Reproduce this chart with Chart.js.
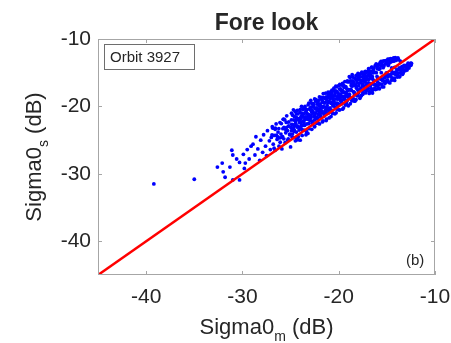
<!DOCTYPE html>
<html>
<head>
<meta charset="utf-8">
<script src="https://cdn.jsdelivr.net/npm/chart.js@4"></script>
<style>
  body { margin: 0; background: #fff; }
  canvas { display: block; }
</style>
</head>
<body>
<canvas id="scatterChart" width="451" height="343"></canvas>
<script>
// axis range and tick labels (dB)
const axisMin = -45;
const axisMax = -10;
const tickValues = [-40, -30, -20, -10];
// 1:1 reference line end points
const refLine = [-45, -10];
// [Sigma0_m, Sigma0_s] pairs
const points = [
  [-39.2,-31.5],[-35.0,-30.8],
  [-32.6,-29.0],[-32.1,-28.4],[-32.0,-29.7],[-31.8,-30.5],[-31.3,-29.0],[-31.0,-27.2],
  [-31.1,-26.5],[-30.3,-28.3],[-29.7,-28.4],[-31.0,-30.9],[-30.3,-30.9],[-30.6,-27.8],
  [-29.9,-27.1],[-29.5,-26.4],[-29.3,-27.8],[-29.8,-29.2],[-29.1,-25.9],
  [-28.9,-25.6],[-28.7,-27.2],[-28.6,-24.5],[-28.4,-26.3],[-28.2,-28.0],[-28.1,-25.0],
  [-27.9,-26.8],[-27.8,-24.2],[-27.6,-25.9],[-27.5,-27.3],[-27.4,-23.6],[-27.2,-25.1],
  [-27.1,-26.4],[-27.0,-24.6],
  [-26.9,-23.0],[-26.8,-25.6],[-26.7,-24.3],[-26.6,-26.5],[-26.5,-22.6],[-26.4,-24.9],
  [-26.3,-23.8],[-26.2,-25.9],[-26.1,-22.4],[-26.0,-24.1],[-25.9,-26.3],[-25.8,-23.3],
  [-25.7,-24.8],[-25.6,-22.0],[-25.5,-23.9],[-25.4,-21.4],[-25.3,-25.0],[-25.2,-22.9],
  [-25.1,-24.2],[-25.0,-26.0],[-25.9,-24.6],[-26.6,-23.4],[-25.4,-23.1],[-25.7,-21.9],
  [-26.93,-24.22],[-26.71,-26.19],[-26.58,-23.23],[-26.37,-24.49],[-26.22,-23.28],
  [-26.08,-25.31],[-25.96,-22.55],[-25.83,-24.47],[-25.69,-23.11],[-25.57,-25.39],
  [-25.44,-22.37],[-25.31,-23.59],[-25.18,-22.31],[-25.06,-24.10],[-26.47,-24.26],
  [-26.14,-24.67],[-25.77,-21.91],[-25.52,-23.39],[-25.24,-24.83],[-26.84,-23.22],
  [-24.9,-21.0],[-24.8,-22.7],[-24.8,-24.1],[-24.7,-23.4],[-24.6,-21.5],[-24.5,-25.1],
  [-24.5,-22.2],[-24.4,-23.8],[-24.3,-20.6],[-24.3,-22.9],[-24.2,-24.5],[-24.1,-21.8],
  [-24.0,-23.1],[-24.0,-20.9],[-23.9,-22.4],[-23.8,-24.3],[-23.8,-21.3],[-23.7,-22.8],
  [-23.6,-20.2],[-23.6,-23.5],[-23.5,-21.9],[-23.4,-24.2],[-23.4,-20.7],[-23.3,-22.6],
  [-23.2,-21.2],[-23.1,-19.5],[-23.1,-23.3],[-23.0,-22.0],[-23.0,-20.4],[-24.6,-22.9],
  [-24.2,-22.0],[-23.9,-23.3],[-23.5,-20.0],[-24.7,-20.5],[-24.0,-25.0],[-23.3,-21.6],
  [-24.4,-21.1],[-23.7,-21.6],[-23.2,-24.0],[-24.9,-23.6],
  [-24.96,-23.12],[-24.91,-21.98],[-24.85,-24.54],[-24.78,-21.31],[-24.72,-23.20],
  [-24.66,-22.00],[-24.59,-23.71],[-24.53,-20.74],[-24.47,-22.50],[-24.41,-21.60],
  [-24.36,-24.80],[-24.29,-23.08],[-24.23,-21.09],[-24.17,-21.80],[-24.12,-23.50],
  [-24.06,-22.38],[-23.99,-20.43],[-23.94,-21.90],[-23.88,-22.81],[-23.82,-21.04],
  [-23.76,-23.53],[-23.71,-20.48],[-23.65,-22.20],[-23.58,-21.07],[-23.53,-22.79],
  [-23.47,-21.55],[-23.41,-20.39],[-23.36,-23.72],[-23.29,-21.02],[-23.24,-21.91],
  [-23.18,-19.77],[-23.12,-22.55],[-23.06,-21.25],[-23.02,-20.38],[-24.88,-22.66],
  [-24.62,-23.49],[-24.38,-21.89],[-24.02,-23.07],[-23.86,-19.98],[-23.61,-22.43],
  [-23.33,-20.47],[-23.15,-21.58],[-24.74,-24.62],[-24.25,-24.96],[-23.92,-21.51],
  [-22.9,-21.6],[-22.9,-19.1],[-22.8,-23.4],[-22.8,-20.5],[-22.7,-22.2],[-22.6,-19.9],
  [-22.6,-21.0],[-22.5,-23.0],[-22.5,-18.9],[-22.4,-21.8],[-22.3,-20.2],[-22.3,-22.5],
  [-22.2,-19.4],[-22.1,-21.2],[-22.1,-20.6],[-22.0,-18.6],[-22.0,-22.6],[-21.9,-19.9],
  [-21.9,-21.5],[-21.8,-20.9],[-21.8,-18.9],[-21.7,-22.3],[-21.6,-20.1],[-21.6,-18.1],
  [-21.5,-21.4],[-21.5,-19.5],[-21.4,-20.7],[-21.3,-22.1],[-21.3,-18.6],[-21.2,-19.9],
  [-21.2,-21.0],[-21.1,-17.9],[-21.1,-20.3],[-21.0,-21.7],[-21.0,-19.2],[-22.7,-20.9],
  [-22.4,-19.2],[-22.2,-21.7],[-21.7,-19.4],[-21.4,-18.8],[-22.9,-20.1],[-22.0,-20.4],
  [-21.6,-21.0],[-22.5,-21.4],[-21.3,-20.3],
  [-22.97,-22.14],[-22.92,-20.50],[-22.86,-21.25],[-22.81,-19.53],[-22.75,-22.48],
  [-22.69,-20.75],[-22.64,-19.75],[-22.58,-21.52],[-22.52,-22.99],[-22.47,-20.31],
  [-22.41,-21.02],[-22.35,-18.99],[-22.29,-21.58],[-22.24,-19.66],[-22.18,-20.44],
  [-22.13,-21.99],[-22.07,-19.10],[-22.02,-20.80],[-21.96,-19.63],[-21.91,-21.33],
  [-21.85,-19.98],[-21.79,-18.67],[-21.74,-20.78],[-21.68,-19.22],[-21.63,-22.15],
  [-21.57,-20.04],[-21.51,-18.77],[-21.46,-21.09],[-21.41,-19.42],[-21.35,-18.04],
  [-21.29,-20.15],[-21.24,-19.03],[-21.18,-20.52],[-21.13,-19.42],[-21.07,-18.24],
  [-21.02,-20.94],[-22.94,-21.77],[-22.71,-20.08],[-22.49,-22.00],[-22.27,-20.69],
  [-22.05,-19.94],[-21.83,-20.50],[-21.61,-18.66],[-21.39,-20.58],[-21.16,-18.67],
  [-22.61,-19.58],[-22.16,-22.44],[-21.72,-20.10],[-21.27,-21.88],[-22.83,-20.77],
  [-20.9,-20.2],[-20.9,-18.1],[-20.8,-21.5],[-20.8,-19.4],[-20.7,-17.6],[-20.7,-20.6],
  [-20.6,-18.8],[-20.5,-19.9],[-20.5,-17.3],[-20.4,-21.1],[-20.4,-18.3],[-20.3,-19.5],
  [-20.2,-17.8],[-20.2,-20.4],[-20.1,-18.9],[-20.0,-16.9],[-20.0,-19.7],[-19.9,-18.2],
  [-19.9,-20.5],[-19.8,-17.4],[-19.7,-19.1],[-19.7,-18.6],[-19.6,-16.6],[-19.5,-20.2],
  [-19.5,-17.9],[-19.4,-18.9],[-19.3,-17.1],[-19.3,-19.8],[-19.2,-18.2],[-19.1,-16.2],
  [-19.1,-19.1],[-19.0,-17.6],[-19.0,-19.9],[-20.6,-19.3],[-20.3,-17.0],[-20.1,-19.9],
  [-19.8,-19.2],[-19.6,-17.8],[-19.4,-17.0],[-19.2,-19.5],[-20.8,-18.6],[-20.4,-19.6],
  [-20.0,-18.4],[-19.6,-20.4],[-19.3,-18.5],
  [-20.97,-19.45],[-20.92,-18.35],[-20.86,-20.52],[-20.81,-17.79],[-20.75,-19.56],
  [-20.69,-18.41],[-20.64,-21.05],[-20.58,-18.84],[-20.53,-17.67],[-20.47,-19.55],
  [-20.42,-18.44],[-20.36,-20.19],[-20.31,-17.68],[-20.25,-18.88],[-20.19,-17.08],
  [-20.14,-19.53],[-20.08,-18.01],[-20.03,-18.79],[-19.97,-20.52],[-19.92,-17.43],
  [-19.86,-18.98],[-19.81,-18.18],[-19.75,-16.83],[-19.69,-19.40],[-19.64,-17.83],
  [-19.58,-18.52],[-19.53,-16.86],[-19.47,-18.96],[-19.42,-17.95],[-19.36,-16.32],
  [-19.31,-19.54],[-19.25,-17.12],[-19.19,-18.22],[-19.14,-17.45],[-19.08,-16.37],
  [-19.03,-18.61],[-20.88,-18.85],[-20.61,-19.90],[-20.38,-17.99],[-20.11,-18.53],
  [-19.89,-16.73],[-19.66,-19.60],[-19.44,-17.16],[-19.22,-17.93],[-20.72,-17.98],
  [-20.27,-20.95],[-19.78,-17.59],[-19.39,-18.62],[-20.49,-19.18],[-19.59,-17.66],
  [-18.9,-15.6],[-18.9,-18.3],[-18.8,-19.6],[-18.7,-16.9],[-18.7,-17.6],[-18.6,-15.3],
  [-18.5,-18.8],[-18.5,-16.3],[-18.4,-17.9],[-18.3,-15.8],[-18.3,-19.2],[-18.2,-17.1],
  [-18.1,-16.0],[-18.1,-18.4],[-18.0,-15.1],[-18.0,-17.6],[-17.9,-16.6],[-17.8,-18.8],
  [-17.8,-15.6],[-17.7,-17.3],[-17.6,-14.9],[-17.6,-16.2],[-17.5,-18.2],[-17.4,-15.5],
  [-17.4,-17.0],[-17.3,-16.3],[-17.2,-14.8],[-17.2,-18.0],[-17.1,-15.9],[-17.0,-17.4],
  [-17.0,-14.9],[-18.6,-17.0],[-18.2,-19.0],[-17.9,-15.3],[-17.5,-16.7],[-18.8,-16.2],
  [-18.4,-16.7],[-17.7,-18.5],[-17.3,-15.2],[-17.1,-16.8],
  [-18.97,-17.51],[-18.92,-16.34],[-18.86,-18.63],[-18.81,-15.69],[-18.75,-17.48],
  [-18.69,-16.65],[-18.64,-19.16],[-18.58,-16.85],[-18.53,-15.66],[-18.47,-17.83],
  [-18.42,-16.50],[-18.36,-18.25],[-18.31,-15.87],[-18.25,-16.89],[-18.19,-15.38],
  [-18.14,-17.32],[-18.08,-16.47],[-18.03,-18.40],[-17.97,-15.61],[-17.92,-16.95],
  [-17.86,-16.02],[-17.81,-17.50],[-17.75,-15.17],[-17.69,-16.47],[-17.64,-18.35],
  [-17.58,-15.61],[-17.53,-16.95],[-17.47,-15.16],[-17.42,-16.01],[-17.36,-17.55],
  [-17.31,-15.53],[-17.25,-16.39],[-17.19,-15.00],[-17.14,-17.70],[-17.08,-15.59],
  [-17.03,-16.61],[-18.89,-18.18],[-18.61,-16.22],[-18.39,-19.21],[-18.17,-16.10],
  [-17.94,-18.02],[-17.72,-16.13],[-17.49,-17.96],[-17.28,-14.86],[-17.11,-16.03],
  [-16.9,-14.4],[-16.9,-16.5],[-16.8,-17.8],[-16.7,-15.3],[-16.7,-16.9],[-16.6,-14.2],
  [-16.5,-17.6],[-16.5,-15.6],[-16.4,-14.6],[-16.3,-16.8],[-16.2,-13.9],[-16.2,-17.5],
  [-16.1,-15.0],[-16.0,-16.3],[-16.0,-14.1],[-15.9,-17.2],[-15.8,-14.5],[-15.8,-16.6],
  [-15.7,-13.5],[-15.6,-16.0],[-15.6,-14.0],[-15.5,-17.1],[-15.4,-13.3],[-15.4,-15.9],
  [-15.3,-14.0],[-15.2,-16.6],[-15.1,-13.2],[-15.1,-15.4],[-15.0,-16.1],[-16.8,-15.0],
  [-16.4,-16.1],[-16.1,-16.9],[-15.9,-13.8],[-15.3,-16.3],[-16.6,-15.8],
  [-16.97,-15.35],[-16.93,-17.34],[-16.88,-14.67],[-16.83,-18.07],[-16.77,-15.59],
  [-16.72,-16.63],[-16.66,-14.77],[-16.61,-17.37],[-16.55,-14.18],[-16.49,-18.01],
  [-16.44,-15.03],[-16.38,-16.66],[-16.33,-14.27],[-16.27,-17.34],[-16.21,-14.94],
  [-16.16,-16.77],[-16.11,-13.69],[-16.05,-17.43],[-15.99,-14.43],[-15.94,-15.82],
  [-15.88,-16.81],[-15.83,-13.86],[-15.77,-17.38],[-15.72,-14.39],[-15.66,-15.88],
  [-15.61,-13.34],[-15.55,-16.71],[-15.49,-13.78],[-15.44,-16.15],[-15.38,-14.26],
  [-15.33,-17.11],[-15.27,-13.24],[-15.22,-15.70],[-15.16,-13.70],[-15.11,-16.40],
  [-15.05,-15.02],[-16.52,-15.85],[-16.02,-15.55],[-15.58,-15.00],[-16.86,-15.98],
  [-14.9,-13.0],[-14.9,-15.6],[-14.8,-16.4],[-14.7,-13.4],[-14.6,-15.3],[-14.6,-12.9],
  [-14.5,-16.1],[-14.4,-13.3],[-14.4,-15.0],[-14.3,-12.8],[-14.2,-15.8],[-14.1,-13.1],
  [-14.1,-14.9],[-14.0,-12.9],[-13.9,-15.4],[-13.9,-14.6],[-13.8,-13.0],[-13.7,-15.6],
  [-13.6,-14.4],[-13.5,-15.1],[-13.4,-14.2],[-13.3,-15.0],[-13.2,-14.0],[-13.1,-14.7],
  [-13.0,-13.9],[-12.9,-14.6],[-12.8,-13.6],[-12.7,-14.3],[-12.6,-13.7],[-12.5,-13.9],
  [-14.8,-13.7],[-14.5,-14.3],[-14.2,-14.2],[-13.6,-13.3],[-15.0,-13.6],
  [-14.97,-13.45],[-14.92,-16.09],[-14.86,-13.92],[-14.81,-15.34],[-14.75,-12.99],
  [-14.69,-16.52],[-14.63,-13.44],[-14.58,-15.60],[-14.52,-12.94],[-14.47,-14.85],
  [-14.41,-15.82],[-14.36,-13.05],[-14.30,-15.12],[-14.24,-13.27],[-14.19,-16.15],
  [-14.13,-12.75],[-14.08,-15.27],[-14.02,-13.16],[-13.96,-14.57],[-13.91,-15.64],
  [-13.85,-12.81],[-13.79,-15.07],[-13.72,-14.29],[-13.66,-15.57],[-13.59,-14.63],
  [-13.52,-14.99],[-13.44,-14.10],[-13.37,-15.23],[-13.29,-14.51],[-13.21,-13.92],
  [-13.13,-14.66],[-13.04,-14.13],[-12.93,-14.31],[-12.81,-13.93],[-12.66,-14.00],
  [-12.52,-13.59],[-12.44,-13.62]
];

const textColor = "#262626";
const frameColor = "#a6a6a6";

// frame, inside ticks, title, axis labels and annotation boxes
const overlay = {
  id: "overlay",
  afterDraw: function (chart) {
    const ctx = chart.ctx;
    const a = chart.chartArea;
    const xs = chart.scales.x;
    const ys = chart.scales.y;
    ctx.save();

    ctx.strokeStyle = frameColor;
    ctx.lineWidth = 1;
    ctx.strokeRect(a.left + 0.5, a.top + 0.5, a.right - a.left - 1, a.bottom - a.top - 1);
    ctx.beginPath();
    tickValues.forEach(function (v) {
      const px = Math.round(xs.getPixelForValue(v)) + 0.5;
      ctx.moveTo(px, a.bottom); ctx.lineTo(px, a.bottom - 4);
      ctx.moveTo(px, a.top); ctx.lineTo(px, a.top + 4);
      const py = Math.round(ys.getPixelForValue(v)) + 0.5;
      ctx.moveTo(a.left, py); ctx.lineTo(a.left + 4, py);
      ctx.moveTo(a.right, py); ctx.lineTo(a.right - 4, py);
    });
    ctx.stroke();

    ctx.fillStyle = textColor;
    ctx.textAlign = "center";
    ctx.textBaseline = "alphabetic";
    ctx.font = "bold 23px 'Liberation Sans', Arial, sans-serif";
    ctx.fillText("Fore look", (a.left + a.right) / 2, 30);

    // axis labels with subscript
    const big = "22px 'Liberation Sans', Arial, sans-serif";
    const small = "14px 'Liberation Sans', Arial, sans-serif";
    function drawLabel(cx, base, head, sub, tail) {
      ctx.font = big;
      const w1 = ctx.measureText(head).width;
      const w3 = ctx.measureText(tail).width;
      ctx.font = small;
      const w2 = ctx.measureText(sub).width;
      let x = cx - (w1 + w2 + w3) / 2;
      ctx.textAlign = "left";
      ctx.font = big;
      ctx.fillText(head, x, base);
      x += w1;
      ctx.font = small;
      ctx.fillText(sub, x, base + 7);
      x += w2;
      ctx.font = big;
      ctx.fillText(tail, x, base);
    }
    drawLabel((a.left + a.right) / 2, 334, "Sigma0", "m", " (dB)");

    ctx.save();
    ctx.translate(41, (a.top + a.bottom) / 2);
    ctx.rotate(-Math.PI / 2);
    drawLabel(0, 0, "Sigma0", "s", " (dB)");
    ctx.restore();

    // orbit box
    ctx.strokeStyle = "#6e6e6e";
    ctx.fillStyle = "#fff";
    ctx.fillRect(104.5, 44.5, 90, 25);
    ctx.strokeRect(104.5, 44.5, 90, 25);
    ctx.fillStyle = textColor;
    ctx.font = "15px 'Liberation Sans', Arial, sans-serif";
    ctx.textAlign = "left";
    ctx.textBaseline = "middle";
    ctx.fillText("Orbit 3927", 110, 58);
    ctx.fillText("(b)", 406, 261);
    ctx.restore();
  }
};

const ctx = document.getElementById("scatterChart").getContext("2d");
const chart = new Chart(ctx, {
  type: "scatter",
  data: {
    datasets: [
      {
        type: "line",
        label: "1:1",
        data: refLine.map(function (v) { return { x: v, y: v }; }),
        borderColor: "#ff0000",
        borderWidth: 2.5,
        pointRadius: 0,
        order: 0
      },
      {
        label: "Orbit 3927",
        data: points.map(function (p) { return { x: p[0], y: p[1] }; }),
        backgroundColor: "#0000ff",
        borderWidth: 0,
        pointRadius: 1.9,
        order: 1
      }
    ]
  },
  options: {
    responsive: false,
    animation: false,
    devicePixelRatio: 1,
    layout: { padding: { top: 39, right: 16, left: 0, bottom: 0 } },
    plugins: {
      legend: { display: false },
      title: { display: false },
      tooltip: { enabled: false }
    },
    scales: {
      x: {
        type: "linear",
        min: axisMin,
        max: axisMax,
        afterBuildTicks: function (s) { s.ticks = tickValues.map(function (v) { return { value: v }; }); },
        afterFit: function (s) { s.height = 68; s.paddingLeft = 0; s.paddingRight = 0; },
        grid: { display: false, drawTicks: false },
        border: { display: false },
        ticks: {
          color: textColor,
          font: { family: "'Liberation Sans', Arial, sans-serif", size: 21 },
          padding: 10,
          maxRotation: 0
        }
      },
      y: {
        type: "linear",
        min: axisMin,
        max: axisMax,
        afterBuildTicks: function (s) { s.ticks = tickValues.map(function (v) { return { value: v }; }); },
        afterFit: function (s) { s.width = 98; s.paddingTop = 0; s.paddingBottom = 0; },
        grid: { display: false, drawTicks: false },
        border: { display: false },
        ticks: {
          color: textColor,
          font: { family: "'Liberation Sans', Arial, sans-serif", size: 21 },
          padding: 7
        }
      }
    }
  },
  plugins: [overlay]
});
</script>
</body>
</html>
